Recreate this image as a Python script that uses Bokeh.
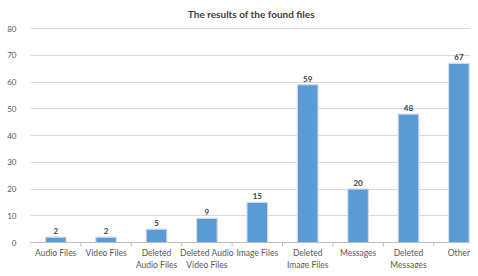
import math
from bokeh.plotting import figure
from bokeh.models import ColumnDataSource, FixedTicker, Range1d, Label, Span
from bokeh.core.properties import value
from bokeh.embed import file_html
from bokeh.resources import INLINE

categories = ["Audio Files", "Video Files", "Deleted\nAudio Files", "Deleted Audio\nVideo Files",
              "Image Files", "Deleted\nImage Files", "Messages", "Deleted\nMessages", "Other"]
values = [2, 2, 5, 9, 15, 59, 20, 48, 67]
y_ticks = [0, 10, 20, 30, 40, 50, 60, 70, 80]
title_text = "The results of the found files"

n = len(categories)
xs = [i + 0.5 for i in range(n)]
src = ColumnDataSource(dict(x=xs, top=values, label=[str(v) for v in values],
                            cat=categories, base=[0] * n))
bounds = ColumnDataSource(dict(x=list(range(n + 1)), y=[0] * (n + 1)))

FONT = "Lato"
W, H = 470, 268
LEFT = 30
PX_PER_CAT = 50.4
PX_PER_UNIT = 214 / 80  # 80 at y=28, 0 at y=242
p = figure(width=W, height=H, output_backend="svg", toolbar_location=None,
           x_axis_location=None,
           x_range=Range1d(0, (W - LEFT) / PX_PER_CAT),
           y_range=Range1d(-(H - 242) / PX_PER_UNIT, 80 + 28 / PX_PER_UNIT),
           min_border_left=LEFT, min_border_right=0, min_border_top=0, min_border_bottom=0)

p.outline_line_color = None
p.background_fill_color = "white"
p.border_fill_color = "white"
p.xgrid.grid_line_color = None
p.ygrid.grid_line_color = "#d9d9d9"
p.ygrid.grid_line_width = 1

p.yaxis.ticker = FixedTicker(ticks=y_ticks)
p.yaxis.axis_line_color = None
p.yaxis.major_tick_line_color = None
p.yaxis.minor_tick_line_color = None
p.yaxis.major_label_text_font = FONT
p.yaxis.major_label_text_font_size = "8px"
p.yaxis.major_label_text_color = "#595959"
p.yaxis.major_label_standoff = 8

# baseline and category boundary ticks
p.add_layout(Span(location=0, dimension="width", line_color="#bfbfbf", line_width=1))
p.ray(x="x", y="y", source=bounds, length=4, length_units="screen", angle=-math.pi / 2,
      line_color="#bfbfbf", line_width=1)

p.vbar(x="x", top="top", width=0.41, source=src, fill_color="#5B9BD5",
       line_color="#d3dbe6", line_width=1.2)

p.text(x="x", y="top", text="label", source=src, y_offset=-3,
       text_align="center", text_baseline="bottom", text_font=value(FONT),
       text_font_size="8px", text_font_style="bold", text_color="#404040")

p.text(x="x", y="base", text="cat", source=src, y_offset=5,
       text_align="center", text_baseline="top", text_font=value(FONT),
       text_font_size="8.5px", text_line_height=1.2, text_color="#595959")

p.add_layout(Label(x=n / 2, y=80, x_offset=-6, y_offset=15, text=title_text, text_align="center",
                   text_baseline="middle", text_font=FONT, text_font_size="10px",
                   text_font_style="bold", text_color="#404040"))

open("out.html", "w").write(file_html(p, INLINE))
